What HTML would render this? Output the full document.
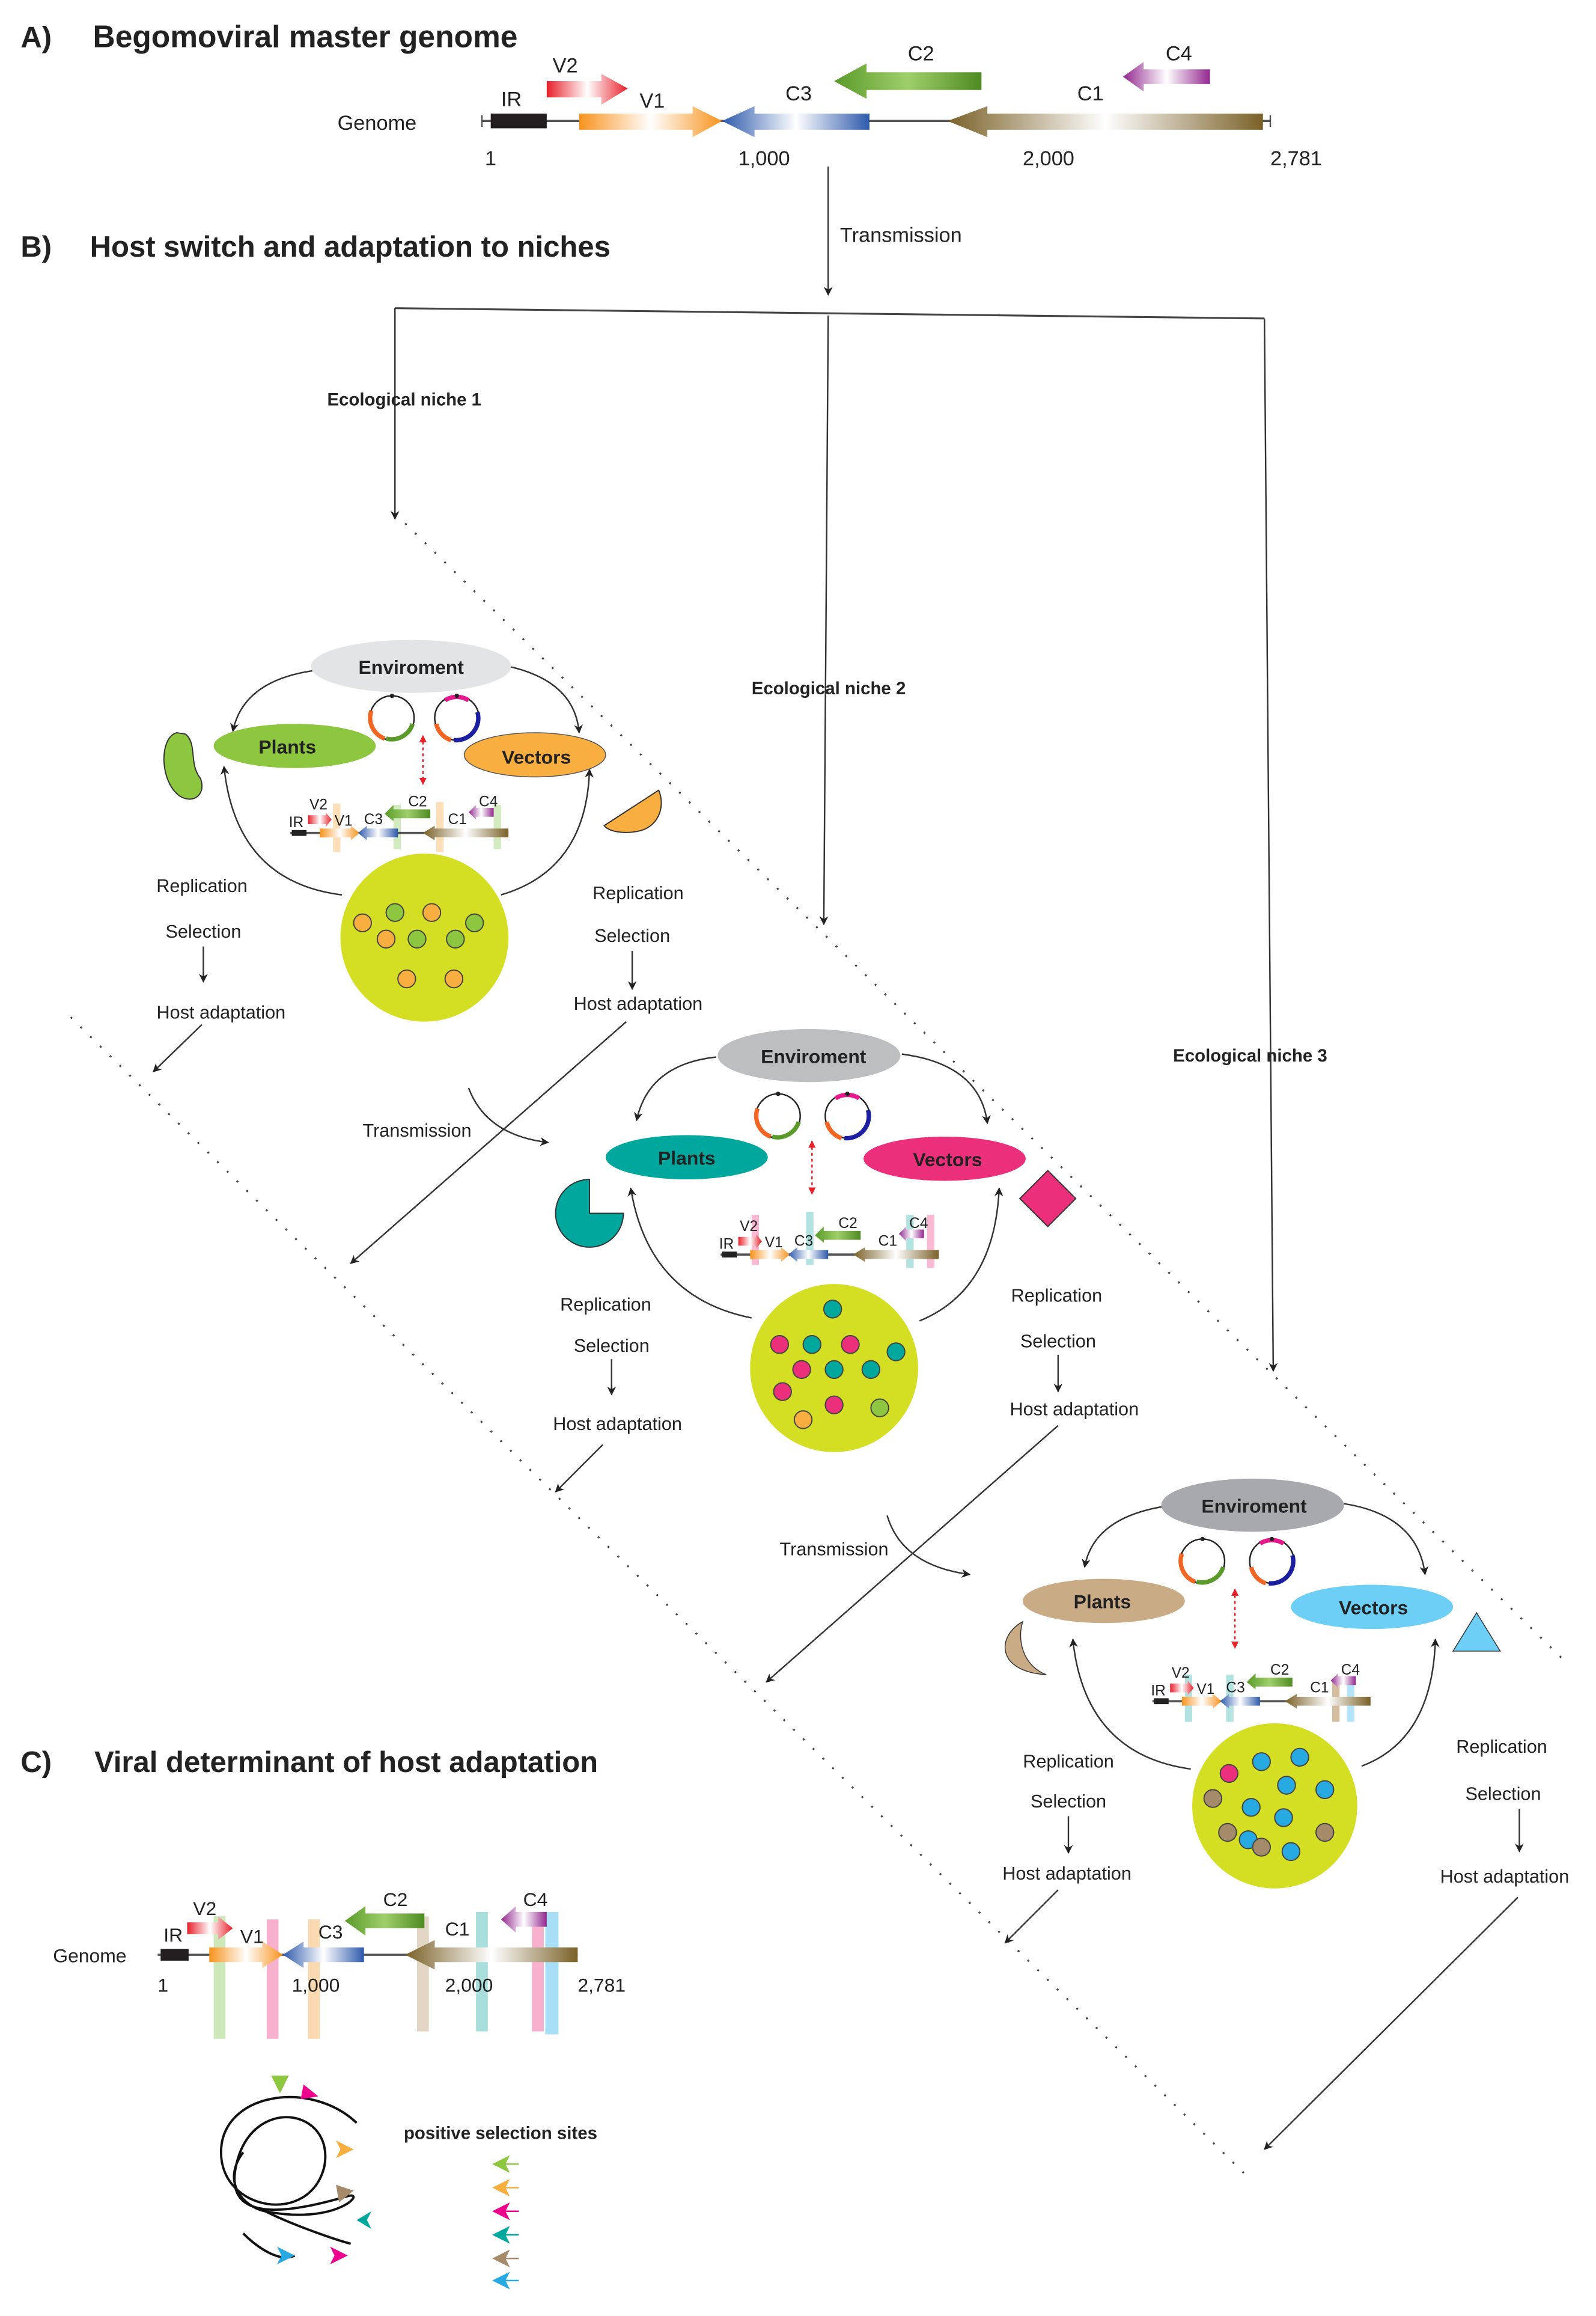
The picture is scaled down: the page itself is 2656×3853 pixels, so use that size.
<!DOCTYPE html>
<html><head><meta charset="utf-8">
<style>html,body{margin:0;padding:0;background:#fff}svg{display:block}text{font-family:"Liberation Sans",Arial,sans-serif;fill:#222}</style>
</head><body>
<svg width="2656" height="3853" viewBox="0 0 1083 1571" xmlns="http://www.w3.org/2000/svg">
<defs>
<linearGradient id="gO"><stop offset="0" stop-color="#f7931e"/><stop offset=".5" stop-color="#fff"/><stop offset="1" stop-color="#f7931e"/></linearGradient>
<linearGradient id="gB"><stop offset="0" stop-color="#2e5aac"/><stop offset=".5" stop-color="#fff"/><stop offset="1" stop-color="#2e5aac"/></linearGradient>
<linearGradient id="gBr"><stop offset="0" stop-color="#7a6128"/><stop offset=".5" stop-color="#fff"/><stop offset="1" stop-color="#7a6128"/></linearGradient>
<linearGradient id="gR"><stop offset="0" stop-color="#e8202a"/><stop offset=".5" stop-color="#fff"/><stop offset="1" stop-color="#e8202a"/></linearGradient>
<linearGradient id="gG"><stop offset="0" stop-color="#5a9a2a"/><stop offset=".5" stop-color="#9fcf6a"/><stop offset="1" stop-color="#4f8a22"/></linearGradient>
<linearGradient id="gP"><stop offset="0" stop-color="#92278f"/><stop offset=".5" stop-color="#fff"/><stop offset="1" stop-color="#92278f"/></linearGradient>
<marker id="ar" viewBox="0 0 10 10" refX="9" refY="5" markerWidth="6" markerHeight="6" orient="auto"><path d="M0,0L10,5L0,10L3,5z" fill="#222"/></marker>
<marker id="ars" viewBox="0 0 10 10" refX="9" refY="5" markerWidth="8" markerHeight="8" orient="auto"><path d="M0,1L10,5L0,9L3,5z" fill="#222"/></marker>
<marker id="rr" viewBox="0 0 10 10" refX="9" refY="5" markerWidth="5" markerHeight="5" orient="auto-start-reverse"><path d="M0,0L10,5L0,10z" fill="#e8202a"/></marker>
<g id="plas">
<circle cx="0" cy="0" r="15" fill="#fff" stroke="#222" stroke-width="1"/>
<path d="M-14,-5 A15,15 0 0 0 -5,14" fill="none" stroke="#f26522" stroke-width="3"/>
<path d="M-4,14 A15,15 0 0 0 14,4" fill="none" stroke="#5a9a2a" stroke-width="3"/>
<circle cx="0" cy="-15" r="1.5" fill="#222"/>
</g>
<g id="plas2">
<circle cx="0" cy="0" r="15" fill="#fff" stroke="#222" stroke-width="1"/>
<path d="M-8,-12 A15,15 0 0 1 8,-12" fill="none" stroke="#e6198c" stroke-width="3"/>
<path d="M14,-4 A15,15 0 0 1 -2,15" fill="none" stroke="#1b1fa0" stroke-width="3"/>
<path d="M-4,15 A15,15 0 0 1 -14,4" fill="none" stroke="#f26522" stroke-width="3"/>
<circle cx="0" cy="-15" r="1.5" fill="#222"/>
</g>
<g id="mini">
<line x1="0" y1="0" x2="148" y2="0" stroke="#555" stroke-width="1.5"/>
<rect x="1" y="-2" width="10" height="4" fill="#222"/>
<path d="M20,-3H41V-5L47,0L41,5V3H20z" fill="url(#gO)"/>
<path d="M73,-3H52V-5L46,0L52,5V3H73z" fill="url(#gB)"/>
<path d="M148,-3H98V-5L90,0L98,5V3H148z" fill="url(#gBr)"/>
<path d="M12,-12H24V-14L28,-9L24,-4V-6H12z" fill="url(#gR)"/>
<path d="M95,-16H70V-19L64,-13L70,-8V-10H95z" fill="url(#gG)"/>
<path d="M138,-17H126V-19L121,-14L126,-9V-11H138z" fill="url(#gP)"/>
<text x="-1" y="-4" font-size="10">IR</text><text x="13" y="-16" font-size="10">V2</text>
<text x="30" y="-5" font-size="10">V1</text><text x="50" y="-6" font-size="10">C3</text>
<text x="80" y="-18" font-size="10">C2</text><text x="107" y="-6" font-size="10">C1</text>
<text x="128" y="-18" font-size="10">C4</text>
</g>
</defs>

<!-- A -->
<text x="14" y="32" font-size="20" font-weight="bold">A)</text>
<text x="63" y="32" font-size="21" font-weight="bold">Begomoviral master genome</text>
<text x="229" y="88" font-size="14">Genome</text>
<line x1="327" y1="82" x2="862" y2="82" stroke="#555" stroke-width="1.5"/>
<line x1="327" y1="78" x2="327" y2="86" stroke="#555"/><line x1="862" y1="78" x2="862" y2="86" stroke="#555"/>
<rect x="333" y="77" width="38" height="10" fill="#231f20"/>
<path d="M393,77H470V72L490,82L470,93V88H393z" fill="url(#gO)"/>
<path d="M590,77H512V72L490,82L512,93V88H590z" fill="url(#gB)"/>
<path d="M857,77H670V72L643,82L670,93V88H857z" fill="url(#gBr)"/>
<path d="M371,55H408V50L426,60L408,71V66H371z" fill="url(#gR)"/>
<path d="M666,49H588V43L566,55L588,67V61H666z" fill="url(#gG)"/>
<path d="M821,47H776V42L762,52L776,62V57H821z" fill="url(#gP)"/>
<text x="340" y="72" font-size="14">IR</text><text x="375" y="49" font-size="14">V2</text>
<text x="434" y="73" font-size="14">V1</text><text x="533" y="68" font-size="14">C3</text>
<text x="616" y="41" font-size="14">C2</text><text x="731" y="68" font-size="14">C1</text>
<text x="791" y="41" font-size="14">C4</text>
<text x="329" y="112" font-size="14">1</text><text x="501" y="112" font-size="14">1,000</text>
<text x="694" y="112" font-size="14">2,000</text><text x="862" y="112" font-size="14">2,781</text>

<!-- B -->
<text x="14" y="174" font-size="20" font-weight="bold">B)</text>
<text x="61" y="174" font-size="20" font-weight="bold">Host switch and adaptation to niches</text>
<line x1="562" y1="113" x2="562" y2="200" stroke="#333" marker-end="url(#ar)"/>
<text x="570" y="164" font-size="14">Transmission</text>
<path d="M268,209L858,216" stroke="#444" stroke-width="1.3" fill="none"/>
<line x1="268" y1="209" x2="268" y2="352" stroke="#333" marker-end="url(#ar)"/>
<line x1="562" y1="214" x2="559" y2="627" stroke="#333" marker-end="url(#ar)"/>
<line x1="858" y1="216" x2="864" y2="930" stroke="#333" marker-end="url(#ar)"/>
<text x="222" y="275" font-size="12" font-weight="bold">Ecological niche 1</text>
<text x="510" y="471" font-size="12" font-weight="bold">Ecological niche 2</text>
<text x="796" y="720" font-size="12" font-weight="bold">Ecological niche 3</text>
<line x1="275" y1="355" x2="1060" y2="1125" stroke="#444" stroke-width="1.3" stroke-dasharray="1.3 8"/>
<line x1="48" y1="690" x2="845" y2="1475" stroke="#444" stroke-width="1.3" stroke-dasharray="1.3 8"/>

<!-- niche 1 -->
<path d="M212,455 Q165,462 158,496" stroke="#333" fill="none" marker-end="url(#ar)"/>
<path d="M345,452 Q390,462 393,497" stroke="#333" fill="none" marker-end="url(#ar)"/>
<path d="M232,607 Q160,598 152,520" stroke="#333" fill="none" marker-end="url(#ar)"/>
<path d="M340,607 Q398,590 400,522" stroke="#333" fill="none" marker-end="url(#ar)"/>
<ellipse cx="279" cy="452" rx="68" ry="18" fill="#e3e4e6"/>
<text x="279" y="457" font-size="13" font-weight="bold" text-anchor="middle">Enviroment</text>
<ellipse cx="200" cy="506" rx="55" ry="15" fill="#8dc63f"/>
<text x="195" y="511" font-size="13" font-weight="bold" text-anchor="middle">Plants</text>
<ellipse cx="363" cy="512" rx="48" ry="15" fill="#f9ae40" stroke="#555" stroke-width=".6"/>
<text x="364" y="518" font-size="13" font-weight="bold" text-anchor="middle">Vectors</text>
<use href="#plas" x="266" y="487"/><use href="#plas2" x="310" y="487"/>
<line x1="287" y1="499" x2="287" y2="532" stroke="#e8202a" stroke-dasharray="2 2" marker-start="url(#rr)" marker-end="url(#rr)"/>
<path d="M120,497 C108,500 108,530 122,540 C132,546 140,538 136,528 C128,518 134,505 126,498z" fill="#8dc63f" stroke="#333" stroke-width=".8"/>
<path d="M410,560 L447,536 C452,548 446,562 432,564 C420,566 412,563 410,560z" fill="#f9ae40" stroke="#333" stroke-width=".8"/>
<rect x="226" y="545" width="5" height="33" fill="#fbd6a8" opacity=".8"/>
<rect x="267" y="546" width="5" height="30" fill="#c8e6b0" opacity=".8"/>
<rect x="296" y="544" width="5" height="34" fill="#fbd6a8" opacity=".8"/>
<rect x="335" y="546" width="5" height="30" fill="#c8e6b0" opacity=".8"/>
<use href="#mini" x="197" y="565"/>
<circle cx="288" cy="636" r="57" fill="#d4df24"/>
<g stroke="#444" stroke-width=".8">
<circle cx="246" cy="626" r="6" fill="#f9ae40"/><circle cx="262" cy="637" r="6" fill="#f9ae40"/><circle cx="293" cy="619" r="6" fill="#f9ae40"/><circle cx="276" cy="664" r="6" fill="#f9ae40"/><circle cx="308" cy="664" r="6" fill="#f9ae40"/>
<circle cx="268" cy="619" r="6" fill="#8dc63f"/><circle cx="283" cy="637" r="6" fill="#8dc63f"/><circle cx="309" cy="637" r="6" fill="#8dc63f"/><circle cx="322" cy="626" r="6" fill="#8dc63f"/>
</g>
<text x="137" y="605" font-size="12.5" text-anchor="middle">Replication</text>
<text x="138" y="636" font-size="12.5" text-anchor="middle">Selection</text>
<line x1="138" y1="642" x2="138" y2="666" stroke="#333" marker-end="url(#ar)"/>
<text x="150" y="691" font-size="12.5" text-anchor="middle">Host adaptation</text>
<text x="433" y="610" font-size="12.5" text-anchor="middle">Replication</text>
<text x="429" y="639" font-size="12.5" text-anchor="middle">Selection</text>
<line x1="429" y1="645" x2="429" y2="671" stroke="#333" marker-end="url(#ar)"/>
<text x="433" y="685" font-size="12.5" text-anchor="middle">Host adaptation</text>
<line x1="137" y1="695" x2="104" y2="727" stroke="#333" marker-end="url(#ar)"/>
<line x1="425" y1="693" x2="238" y2="857" stroke="#333" marker-end="url(#ar)"/>
<path d="M318,738 Q330,770 372,775" stroke="#333" fill="none" marker-end="url(#ar)"/>
<text x="283" y="771" font-size="12.5" text-anchor="middle">Transmission</text>

<!-- niche 2 -->
<path d="M486,717 Q440,722 432,760" stroke="#333" fill="none" marker-end="url(#ar)"/>
<path d="M612,715 Q665,722 670,762" stroke="#333" fill="none" marker-end="url(#ar)"/>
<path d="M510,894 Q440,880 428,806" stroke="#333" fill="none" marker-end="url(#ar)"/>
<path d="M624,896 Q675,875 678,806" stroke="#333" fill="none" marker-end="url(#ar)"/>
<ellipse cx="549" cy="716" rx="62" ry="18" fill="#bcbec0"/>
<text x="552" y="721" font-size="13" font-weight="bold" text-anchor="middle">Enviroment</text>
<ellipse cx="466" cy="785" rx="55" ry="15" fill="#00a79d"/>
<text x="466" y="790" font-size="13" font-weight="bold" text-anchor="middle">Plants</text>
<ellipse cx="641" cy="786" rx="55" ry="15" fill="#ec2f7b"/>
<text x="643" y="791" font-size="13" font-weight="bold" text-anchor="middle">Vectors</text>
<use href="#plas" x="528" y="757"/><use href="#plas2" x="575" y="757"/>
<line x1="551" y1="774" x2="551" y2="810" stroke="#e8202a" stroke-dasharray="2 2" marker-start="url(#rr)" marker-end="url(#rr)"/>
<path d="M400,823 L400,800 A23,23 0 1 0 423,823z" fill="#00a79d" stroke="#333" stroke-width=".8"/>
<path d="M711,794 L730,813 L711,832 L692,813z" fill="#ec2f7b" stroke="#333" stroke-width=".8"/>
<rect x="510" y="824" width="5" height="34" fill="#f7a8c8" opacity=".8"/>
<rect x="547" y="822" width="5" height="36" fill="#9fdcd8" opacity=".8"/>
<rect x="615" y="824" width="5" height="36" fill="#9fdcd8" opacity=".8"/>
<rect x="629" y="824" width="5" height="36" fill="#f7a8c8" opacity=".8"/>
<use href="#mini" x="489" y="851"/>
<circle cx="566" cy="928" r="57" fill="#d4df24"/>
<g stroke="#444" stroke-width=".8">
<circle cx="565" cy="888" r="6" fill="#00a79d"/><circle cx="551" cy="912" r="6" fill="#00a79d"/><circle cx="566" cy="929" r="6" fill="#00a79d"/><circle cx="591" cy="929" r="6" fill="#00a79d"/><circle cx="608" cy="917" r="6" fill="#00a79d"/>
<circle cx="529" cy="912" r="6" fill="#ec2f7b"/><circle cx="577" cy="912" r="6" fill="#ec2f7b"/><circle cx="544" cy="929" r="6" fill="#ec2f7b"/><circle cx="531" cy="944" r="6" fill="#ec2f7b"/><circle cx="566" cy="953" r="6" fill="#ec2f7b"/>
<circle cx="545" cy="963" r="6" fill="#f9ae40"/><circle cx="597" cy="955" r="6" fill="#8dc63f"/>
</g>
<text x="411" y="889" font-size="12.5" text-anchor="middle">Replication</text>
<text x="415" y="917" font-size="12.5" text-anchor="middle">Selection</text>
<line x1="415" y1="922" x2="415" y2="946" stroke="#333" marker-end="url(#ar)"/>
<text x="419" y="970" font-size="12.5" text-anchor="middle">Host adaptation</text>
<text x="717" y="883" font-size="12.5" text-anchor="middle">Replication</text>
<text x="718" y="914" font-size="12.5" text-anchor="middle">Selection</text>
<line x1="718" y1="919" x2="718" y2="944" stroke="#333" marker-end="url(#ar)"/>
<text x="729" y="960" font-size="12.5" text-anchor="middle">Host adaptation</text>
<line x1="409" y1="980" x2="377" y2="1012" stroke="#333" marker-end="url(#ar)"/>
<line x1="718" y1="967" x2="520" y2="1141" stroke="#333" marker-end="url(#ar)"/>
<path d="M602,1028 Q612,1062 658,1068" stroke="#333" fill="none" marker-end="url(#ar)"/>
<text x="566" y="1055" font-size="12.5" text-anchor="middle">Transmission</text>

<!-- niche 3 -->
<path d="M789,1022 Q742,1030 736,1063" stroke="#333" fill="none" marker-end="url(#ar)"/>
<path d="M912,1020 Q962,1028 967,1068" stroke="#333" fill="none" marker-end="url(#ar)"/>
<path d="M808,1200 Q736,1190 728,1112" stroke="#333" fill="none" marker-end="url(#ar)"/>
<path d="M924,1198 Q972,1180 974,1112" stroke="#333" fill="none" marker-end="url(#ar)"/>
<ellipse cx="850" cy="1021" rx="62" ry="18" fill="#a7a9ac"/>
<text x="851" y="1026" font-size="13" font-weight="bold" text-anchor="middle">Enviroment</text>
<ellipse cx="749" cy="1086" rx="55" ry="15" fill="#c9ab86"/>
<text x="748" y="1091" font-size="13" font-weight="bold" text-anchor="middle">Plants</text>
<ellipse cx="931" cy="1090" rx="55" ry="15" fill="#6dcff6"/>
<text x="932" y="1095" font-size="13" font-weight="bold" text-anchor="middle">Vectors</text>
<use href="#plas" x="816" y="1059"/><use href="#plas2" x="863" y="1059"/>
<line x1="838" y1="1078" x2="838" y2="1118" stroke="#e8202a" stroke-dasharray="2 2" marker-start="url(#rr)" marker-end="url(#rr)"/>
<path d="M694,1100 C676,1110 676,1134 710,1136 C694,1130 690,1112 694,1100z" fill="#c9ab86" stroke="#333" stroke-width=".6"/>
<path d="M1002,1094 L1018,1120 L986,1120z" fill="#6dcff6" stroke="#333" stroke-width=".6"/>
<rect x="804" y="1136" width="5" height="32" fill="#9fdcd8" opacity=".8"/>
<rect x="832" y="1136" width="5" height="32" fill="#9fdcd8" opacity=".8"/>
<rect x="904" y="1138" width="5" height="30" fill="#c9ab86" opacity=".8"/>
<rect x="914" y="1138" width="5" height="30" fill="#9fdcf6" opacity=".8"/>
<use href="#mini" x="782" y="1154"/>
<circle cx="865" cy="1225" r="56" fill="#d4df24"/>
<g stroke="#444" stroke-width=".8">
<circle cx="856" cy="1195" r="6" fill="#27aae1"/><circle cx="882" cy="1192" r="6" fill="#27aae1"/><circle cx="849" cy="1226" r="6" fill="#27aae1"/><circle cx="873" cy="1211" r="6" fill="#27aae1"/><circle cx="899" cy="1214" r="6" fill="#27aae1"/><circle cx="871" cy="1233" r="6" fill="#27aae1"/><circle cx="847" cy="1248" r="6" fill="#27aae1"/><circle cx="876" cy="1256" r="6" fill="#27aae1"/>
<circle cx="823" cy="1220" r="6" fill="#a68b6b"/><circle cx="833" cy="1243" r="6" fill="#a68b6b"/><circle cx="856" cy="1253" r="6" fill="#a68b6b"/><circle cx="899" cy="1243" r="6" fill="#a68b6b"/>
<circle cx="834" cy="1203" r="6" fill="#ec2f7b"/>
</g>
<text x="725" y="1199" font-size="12.5" text-anchor="middle">Replication</text>
<text x="725" y="1226" font-size="12.5" text-anchor="middle">Selection</text>
<line x1="725" y1="1232" x2="725" y2="1257" stroke="#333" marker-end="url(#ar)"/>
<text x="724" y="1275" font-size="12.5" text-anchor="middle">Host adaptation</text>
<text x="1019" y="1189" font-size="12.5" text-anchor="middle">Replication</text>
<text x="1020" y="1221" font-size="12.5" text-anchor="middle">Selection</text>
<line x1="1031" y1="1227" x2="1031" y2="1256" stroke="#333" marker-end="url(#ar)"/>
<text x="1021" y="1277" font-size="12.5" text-anchor="middle">Host adaptation</text>
<line x1="718" y1="1282" x2="682" y2="1318" stroke="#333" marker-end="url(#ar)"/>
<line x1="1030" y1="1287" x2="858" y2="1458" stroke="#333" marker-end="url(#ar)"/>

<!-- C -->
<text x="14" y="1202" font-size="20" font-weight="bold">C)</text>
<text x="64" y="1202" font-size="20" font-weight="bold">Viral determinant of host adaptation</text>
<text x="36" y="1331" font-size="13">Genome</text>
<rect x="145" y="1300" width="8" height="83" fill="#c8e6b0" opacity=".9"/>
<rect x="181" y="1302" width="8" height="81" fill="#f7a8c8" opacity=".9"/>
<rect x="209" y="1302" width="8" height="81" fill="#fbd6a8" opacity=".9"/>
<rect x="283" y="1300" width="8" height="78" fill="#e0d0bc" opacity=".9"/>
<rect x="323" y="1297" width="8" height="81" fill="#9fdcd8" opacity=".9"/>
<rect x="361" y="1297" width="8" height="81" fill="#f7a8c8" opacity=".9"/>
<rect x="370" y="1297" width="9" height="83" fill="#9fdcf6" opacity=".9"/>
<line x1="107" y1="1326" x2="392" y2="1326" stroke="#555" stroke-width="1.5"/>
<rect x="109" y="1322" width="19" height="8" fill="#231f20"/>
<path d="M142,1321H178V1317L192,1326L178,1335V1331H142z" fill="url(#gO)"/>
<path d="M247,1321H206V1317L192,1326L206,1335V1331H247z" fill="url(#gB)"/>
<path d="M392,1321H295V1316L275,1326L295,1336V1331H392z" fill="url(#gBr)"/>
<path d="M127,1304H148V1300L158,1308L148,1316V1312H127z" fill="url(#gR)"/>
<path d="M288,1298H248V1293L234,1303L248,1313V1308H288z" fill="url(#gG)"/>
<path d="M371,1297H350V1293L340,1302L350,1311V1307H371z" fill="url(#gP)"/>
<text x="111" y="1317" font-size="13">IR</text><text x="131" y="1299" font-size="13">V2</text>
<text x="163" y="1318" font-size="13">V1</text><text x="216" y="1315" font-size="13">C3</text>
<text x="260" y="1293" font-size="13">C2</text><text x="302" y="1313" font-size="13">C1</text>
<text x="355" y="1293" font-size="13">C4</text>
<text x="107" y="1351" font-size="13">1</text><text x="198" y="1351" font-size="13">1,000</text>
<text x="302" y="1351" font-size="13">2,000</text><text x="392" y="1351" font-size="13">2,781</text>
<path d="M242,1440 C210,1410 150,1420 150,1460 C150,1500 210,1510 220,1470 C228,1430 170,1420 160,1470 C152,1510 200,1500 235,1490 C250,1485 230,1510 180,1500 C165,1497 150,1480 165,1460 M180,1500 C200,1510 230,1520 238,1522 M165,1515 C175,1525 190,1535 200,1530" fill="none" stroke="#111" stroke-width="1.6"/>
<g>
<path d="M184,1408L196,1408L190,1420z" fill="#8dc63f"/>
<path d="M206,1414L216,1422L204,1424z" fill="#ec008c"/>
<path d="M228,1452L240,1458L228,1464L231,1458z" fill="#f9ae40"/>
<path d="M228,1482L240,1486L230,1494z" fill="#a68b6b"/>
<path d="M252,1500L242,1506L252,1512L249,1506z" fill="#00a79d"/>
<path d="M224,1524L236,1530L224,1536L227,1530z" fill="#ec008c"/>
<path d="M188,1524L200,1530L188,1536L191,1530z" fill="#27aae1"/>
</g>
<text x="274" y="1451" font-size="12" font-weight="bold">positive selection sites</text>
<g>
<path d="M346,1462L334,1468L346,1474L343,1468z" fill="#8dc63f"/>
<path d="M346,1478L334,1484L346,1490L343,1484z" fill="#f9ae40"/>
<path d="M346,1494L334,1500L346,1506L343,1500z" fill="#ec008c"/>
<path d="M346,1510L334,1516L346,1522L343,1516z" fill="#00a79d"/>
<path d="M346,1526L334,1532L346,1538L343,1532z" fill="#a68b6b"/>
<path d="M346,1541L334,1547L346,1553L343,1547z" fill="#27aae1"/>
<line x1="343" y1="1468" x2="352" y2="1468" stroke="#8dc63f"/><line x1="343" y1="1484" x2="352" y2="1484" stroke="#f9ae40"/>
<line x1="343" y1="1500" x2="352" y2="1500" stroke="#ec008c"/><line x1="343" y1="1516" x2="352" y2="1516" stroke="#00a79d"/>
<line x1="343" y1="1532" x2="352" y2="1532" stroke="#a68b6b"/><line x1="343" y1="1547" x2="352" y2="1547" stroke="#27aae1"/>
</g>
</svg>
</body></html>
